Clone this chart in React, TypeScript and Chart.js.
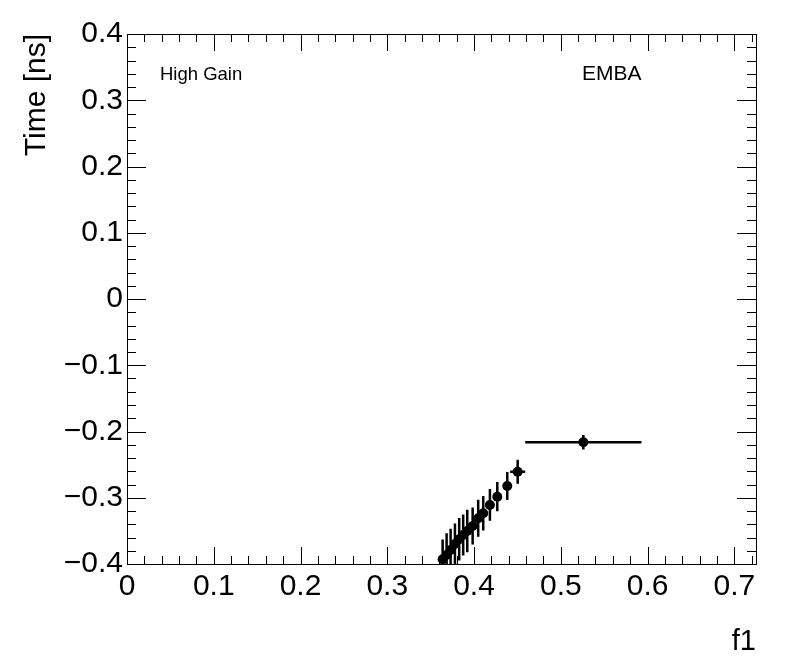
import React, { useEffect, useRef } from 'react';
import { Chart, registerables } from 'chart.js';

Chart.register(...registerables);

// ---- data ----
const xValues = [0.3638, 0.3684, 0.3730, 0.3780, 0.3829, 0.3875, 0.3922, 0.3984, 0.4048, 0.4106, 0.4183, 0.4268, 0.4383, 0.4503, 0.5260];
const yValues = [-0.3929, -0.3864, -0.3789, -0.3698, -0.3627, -0.3562, -0.3502, -0.3426, -0.3310, -0.3235, -0.3109, -0.2984, -0.2823, -0.2607, -0.2163];
const yErrors = [0.030, 0.033, 0.032, 0.031, 0.032, 0.031, 0.032, 0.028, 0.028, 0.026, 0.024, 0.022, 0.021, 0.018, 0.011];
const xErrors = [0.002, 0.002, 0.002, 0.002, 0.002, 0.002, 0.002, 0.003, 0.003, 0.003, 0.004, 0.004, 0.005, 0.0087, 0.067];

const xTicks = [0, 0.1, 0.2, 0.3, 0.4, 0.5, 0.6, 0.7];
const yTicks = [-0.4, -0.3, -0.2, -0.1, 0, 0.1, 0.2, 0.3, 0.4];
const xRange = [0, 0.725];
const yRange = [-0.4, 0.4];

const xTitle = 'f1';
const yTitle = 'Time [ns]';
const leftLabel = 'High Gain';
const rightLabel = 'EMBA';

const FONT = "'Liberation Sans', Arial, Helvetica, sans-serif";

function fmt(v: number): string {
  const r = Math.round(v * 10) / 10;
  if (Math.abs(r) < 1e-9) return '0';
  const s = Math.abs(r).toString();
  return r < 0 ? '\u2212' + s : s;
}

const errorBarPlugin = {
  id: 'errorBars',
  beforeDatasetsDraw(chart: any) {
    const { ctx, chartArea, scales } = chart;
    const xs = scales.x;
    const ys = scales.y;
    ctx.save();
    ctx.beginPath();
    ctx.rect(chartArea.left, chartArea.top, chartArea.right - chartArea.left, chartArea.bottom - chartArea.top);
    ctx.clip();
    ctx.strokeStyle = '#000';
    ctx.lineWidth = 2.5;
    for (let i = 0; i < xValues.length; i++) {
      const px = xs.getPixelForValue(xValues[i]);
      const py = ys.getPixelForValue(yValues[i]);
      const y1 = ys.getPixelForValue(yValues[i] - yErrors[i]);
      const y2 = ys.getPixelForValue(yValues[i] + yErrors[i]);
      const x1 = xs.getPixelForValue(xValues[i] - xErrors[i]);
      const x2 = xs.getPixelForValue(xValues[i] + xErrors[i]);
      ctx.beginPath();
      ctx.moveTo(px, y1);
      ctx.lineTo(px, y2);
      ctx.moveTo(x1, py);
      ctx.lineTo(x2, py);
      ctx.stroke();
    }
    ctx.restore();
  },
};

const framePlugin = {
  id: 'rootFrame',
  afterDraw(chart: any) {
    const { ctx, chartArea, scales } = chart;
    const { left, right, top, bottom } = chartArea;
    const xs = scales.x;
    const ys = scales.y;
    ctx.save();
    ctx.strokeStyle = '#000';
    ctx.lineWidth = 1;
    ctx.strokeRect(Math.round(left) + 0.5, Math.round(top) + 0.5, Math.round(right - left), Math.round(bottom - top));
    ctx.beginPath();
    // x ticks (bottom & top)
    for (let k = 0; k <= 36; k++) {
      const v = k * 0.02;
      if (v > xRange[1] + 1e-9) break;
      const px = Math.round(xs.getPixelForValue(v)) + 0.5;
      const len = k % 5 === 0 ? 17 : 8;
      ctx.moveTo(px, bottom);
      ctx.lineTo(px, bottom - len);
      ctx.moveTo(px, top);
      ctx.lineTo(px, top + len);
    }
    // y ticks (left & right)
    for (let k = 0; k <= 40; k++) {
      const v = yRange[0] + k * 0.02;
      const py = Math.round(ys.getPixelForValue(v)) + 0.5;
      const len = k % 5 === 0 ? 19 : 9;
      ctx.moveTo(left, py);
      ctx.lineTo(left + len, py);
      ctx.moveTo(right, py);
      ctx.lineTo(right - len, py);
    }
    ctx.stroke();
    // annotations
    ctx.fillStyle = '#000';
    ctx.textBaseline = 'alphabetic';
    ctx.textAlign = 'left';
    ctx.font = `18.5px ${FONT}`;
    ctx.fillText(leftLabel, left + 33, top + 46);
    ctx.font = `21px ${FONT}`;
    ctx.fillText(rightLabel, left + 455, top + 46);
    ctx.restore();
  },
};

export default function App() {
  const ref = useRef<HTMLCanvasElement>(null);
  useEffect(() => {
    if (!ref.current) return;
    const points = xValues.map((x, i) => ({ x, y: yValues[i] }));
    const chart = new Chart(ref.current, {
      type: 'scatter',
      data: {
        datasets: [
          {
            data: points,
            backgroundColor: '#000',
            borderColor: '#000',
            pointRadius: 5,
            pointHoverRadius: 5,
            pointBorderWidth: 0,
            showLine: false,
          },
        ],
      },
      plugins: [errorBarPlugin, framePlugin],
      options: {
        responsive: false,
        animation: false,
        devicePixelRatio: 1,
        layout: { padding: { left: 0, top: 34, right: 40, bottom: 0 } },
        plugins: { legend: { display: false }, tooltip: { enabled: false } },
        scales: {
          x: {
            type: 'linear',
            min: xRange[0],
            max: xRange[1],
            afterBuildTicks: (s: any) => {
              s.ticks = xTicks.map((v) => ({ value: v }));
            },
            afterFit: (s: any) => {
              s.height = 108;
            },
            grid: { display: false, drawTicks: false },
            border: { display: false },
            ticks: {
              autoSkip: false,
              maxRotation: 0,
              padding: 5,
              color: '#000',
              font: { family: FONT, size: 30 },
              callback: (v: any) => fmt(Number(v)),
            },
            title: {
              display: true,
              text: xTitle,
              align: 'end',
              color: '#000',
              font: { family: FONT, size: 29 },
              padding: { top: 0, bottom: 13 },
            },
          },
          y: {
            type: 'linear',
            min: yRange[0],
            max: yRange[1],
            afterBuildTicks: (s: any) => {
              s.ticks = yTicks.map((v) => ({ value: v }));
            },
            afterFit: (s: any) => {
              s.width = 127;
            },
            grid: { display: false, drawTicks: false },
            border: { display: false },
            ticks: {
              autoSkip: false,
              padding: 4,
              color: '#000',
              font: { family: FONT, size: 30 },
              callback: (v: any) => fmt(Number(v)),
            },
            title: {
              display: true,
              text: yTitle,
              align: 'end',
              color: '#000',
              font: { family: FONT, size: 30 },
              padding: { top: 19, bottom: 0 },
            },
          },
        },
      } as any,
    });
    return () => chart.destroy();
  }, []);
  return (
    <div style={{ position: 'fixed', left: 0, top: 0, width: 796, height: 672, background: '#fff' }}>
      <canvas ref={ref} width={796} height={672} style={{ width: 796, height: 672, display: 'block' }} />
    </div>
  );
}
